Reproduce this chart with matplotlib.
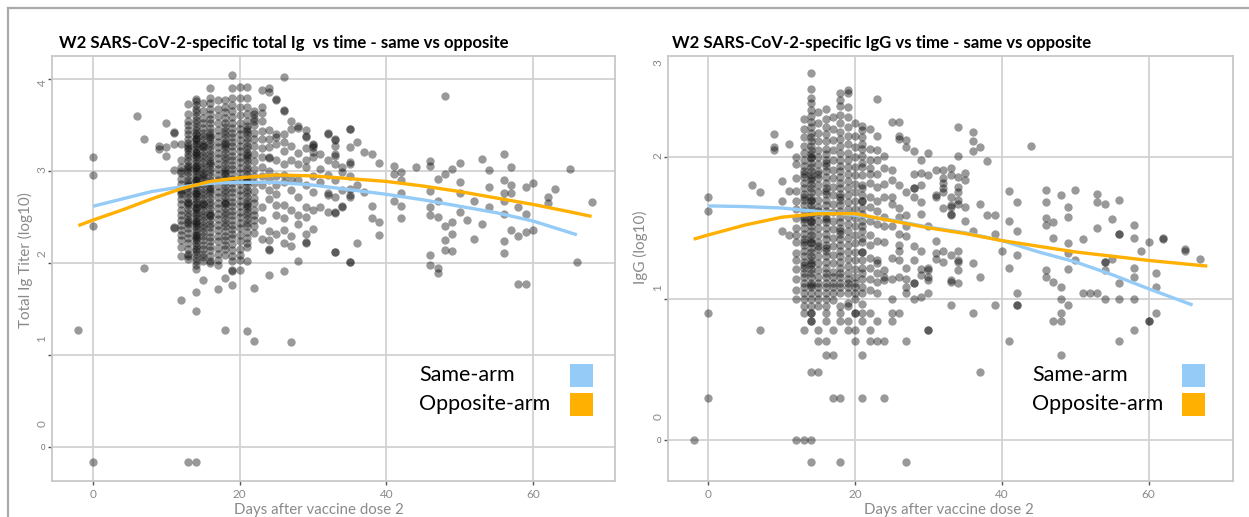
"""
plot.py
=======
Two-panel scatter of W2 SARS-CoV-2 antibody levels against days after the
second vaccine dose, with the same-arm / opposite-arm trend curves on top.
Writes out.png (1249x517).
"""
import matplotlib
matplotlib.use("Agg")
import matplotlib.pyplot as plt
from matplotlib.lines import Line2D
from matplotlib.patches import Rectangle
from matplotlib.transforms import blended_transform_factory

W, H = 1249, 517
FONT = "Lato"

# ---- left panel: total Ig titer (log10), one list of values per day ----
ig_by_day = {
    -2: [1.28],
    0: [3.15, 2.96, 2.40, -0.16],
    6: [3.60],
    7: [3.35, 1.95],
    9: [3.27, 3.24],
    10: [3.53, 3.17, 3.26],
    11: [3.42, 3.30, 3.01, 2.38, 2.39, 3.43],
    12: [3.30, 3.12, 3.05, 2.98, 2.92, 2.86, 2.80, 2.75, 2.70, 2.64, 2.58, 2.52, 2.47,
         2.42, 2.36, 2.31, 2.25, 2.18, 2.08, 1.60, 3.00, 2.77],
    13: [3.73, 3.62, 3.55, 3.50, 3.45, 3.40, 3.35, 3.31, 3.27, 3.23, 3.19, 3.15, 3.11,
         3.07, 3.03, 2.99, 2.95, 2.91, 2.87, 2.83, 2.79, 2.75, 2.71, 2.67, 2.63, 2.59,
         2.55, 2.51, 2.47, 2.43, 2.38, 2.33, 2.28, 2.22, 2.16, 2.10, 2.05, 2.08, -0.16,
         3.25, 3.05, 2.85, 2.65, 2.45],
    14: [3.79, 3.76, 3.72, 3.68, 3.64, 3.60, 3.56, 3.52, 3.48, 3.45, 3.42, 3.39, 3.36,
         3.33, 3.30, 3.27, 3.24, 3.21, 3.18, 3.15, 3.12, 3.09, 3.06, 3.03, 3.00, 2.97,
         2.94, 2.91, 2.88, 2.85, 2.82, 2.79, 2.76, 2.73, 2.70, 2.67, 2.64, 2.61, 2.58,
         2.55, 2.52, 2.49, 2.46, 2.43, 2.40, 2.37, 2.34, 2.31, 2.28, 2.25, 2.22, 2.19,
         2.16, 2.13, 2.10, 2.06, 2.02, 1.98, 1.94, 1.69, 1.48, -0.16, 3.35, 3.20, 3.05,
         2.90, 2.75, 2.60, 2.45, 2.30],
    15: [3.74, 3.66, 3.58, 3.52, 3.47, 3.42, 3.38, 3.34, 3.30, 3.26, 3.22, 3.18, 3.14,
         3.10, 3.06, 3.02, 2.98, 2.94, 2.90, 2.86, 2.82, 2.78, 2.74, 2.70, 2.66, 2.62,
         2.58, 2.54, 2.50, 2.46, 2.42, 2.38, 2.34, 2.30, 2.25, 2.20, 2.15, 2.10, 2.07,
         2.03, 1.82, 3.28, 2.96, 2.64],
    16: [3.91, 3.80, 3.74, 3.68, 3.62, 3.57, 3.52, 3.47, 3.43, 3.39, 3.35, 3.31, 3.27,
         3.23, 3.19, 3.15, 3.11, 3.07, 3.03, 2.99, 2.95, 2.91, 2.87, 2.83, 2.79, 2.75,
         2.71, 2.67, 2.63, 2.59, 2.55, 2.51, 2.47, 2.43, 2.39, 2.34, 2.29, 2.24, 2.19,
         2.14, 2.08, 2.03, 2.00, 3.37, 3.09, 2.81, 2.53],
    17: [3.77, 3.68, 3.60, 3.52, 3.45, 3.38, 3.32, 3.26, 3.20, 3.14, 3.08, 3.02, 2.96,
         2.90, 2.84, 2.78, 2.72, 2.66, 2.60, 2.54, 2.48, 2.42, 2.36, 2.30, 2.24, 2.17,
         2.10, 2.04, 1.98, 1.72],
    18: [3.77, 3.70, 3.64, 3.58, 3.53, 3.48, 3.44, 3.40, 3.36, 3.32, 3.28, 3.24, 3.20,
         3.16, 3.12, 3.08, 3.04, 3.00, 2.96, 2.92, 2.88, 2.84, 2.80, 2.76, 2.72, 2.68,
         2.64, 2.60, 2.56, 2.52, 2.48, 2.44, 2.40, 2.35, 2.30, 2.25, 2.20, 2.15, 2.09,
         1.84, 1.27, 3.30, 2.98, 2.66],
    19: [4.05, 3.91, 3.80, 3.72, 3.65, 3.59, 3.53, 3.47, 3.42, 3.37, 3.32, 3.27, 3.22,
         3.17, 3.12, 3.07, 3.02, 2.97, 2.92, 2.87, 2.82, 2.77, 2.72, 2.67, 2.62, 2.57,
         2.52, 2.47, 2.42, 2.37, 2.32, 2.27, 2.21, 2.14, 2.08, 2.02, 1.93, 1.92, 1.76],
    20: [3.92, 3.80, 3.70, 3.61, 3.53, 3.46, 3.40, 3.34, 3.28, 3.22, 3.16, 3.10, 3.04,
         2.98, 2.92, 2.86, 2.80, 2.74, 2.68, 2.62, 2.56, 2.50, 2.44, 2.38, 2.31, 2.24,
         2.16, 2.09, 2.04, 1.93],
    21: [3.92, 3.80, 3.70, 3.62, 3.55, 3.49, 3.44, 3.40, 3.36, 3.32, 3.28, 3.24, 3.20,
         3.16, 3.12, 3.08, 3.04, 3.00, 2.96, 2.92, 2.88, 2.84, 2.80, 2.76, 2.72, 2.68,
         2.64, 2.60, 2.56, 2.52, 2.48, 2.44, 2.40, 2.34, 2.28, 2.22, 2.18, 2.03, 1.26,
         3.46, 3.18, 2.90, 2.62],
    22: [3.66, 3.58, 3.50, 3.42, 3.35, 3.27, 3.19, 3.11, 3.03, 2.95, 2.87, 2.79, 2.71,
         2.65, 2.58, 2.53, 2.47, 2.40, 2.33, 1.73, 1.16, 3.62, 3.55],
    23: [3.88, 3.70, 3.63, 3.55, 3.44, 3.35, 3.16, 3.05, 2.95, 2.85, 2.61, 2.47, 2.26, 3.25],
    24: [3.91, 3.86, 3.45, 3.35, 3.26, 3.16, 3.14, 3.00, 2.90, 2.80, 2.35, 2.25, 2.15,
         1.87, 2.14, 2.70],
    25: [3.79, 3.77, 3.41, 3.37, 3.30, 3.12, 2.63, 2.53, 2.32, 2.95, 2.85, 2.75],
    26: [4.02, 3.67, 3.66, 3.40, 3.32, 3.22, 3.08, 2.63, 2.49, 2.36, 2.22, 1.92, 2.88, 2.96],
    27: [3.55, 3.46, 3.27, 3.12, 2.58, 2.30, 2.19, 1.14, 2.80, 2.92],
    28: [3.49, 3.47, 3.20, 3.08, 2.52, 2.43, 2.02, 2.90, 2.72],
    29: [3.45, 3.38, 3.37, 3.25, 3.12, 3.05, 2.61, 2.50, 2.32, 2.23, 2.22, 2.85],
    30: [3.30, 3.29, 3.26, 3.21, 3.16, 2.58, 2.37, 2.95, 2.78],
    31: [3.19, 3.03, 2.61, 2.88],
    32: [3.42, 3.41, 3.12, 2.74, 2.76, 2.56, 2.96],
    33: [3.35, 3.34, 3.27, 3.19, 3.08, 3.17, 2.72, 2.56, 2.55, 2.12, 2.12, 2.90],
    34: [3.05, 2.99, 2.62, 2.61, 2.80],
    35: [3.46, 3.46, 3.26, 3.10, 3.08, 2.81, 2.74, 2.72, 2.01, 2.01, 2.95],
    36: [3.32, 2.85, 2.22],
    37: [3.21, 2.78],
    38: [3.19, 2.62, 2.49],
    39: [3.09, 2.45, 2.31],
    41: [3.06, 2.97, 2.68],
    42: [2.99, 2.90, 2.76, 2.62, 2.49],
    44: [3.05],
    46: [3.11, 3.06, 2.79, 2.61, 2.52, 2.09, 1.98],
    47: [2.92, 2.68, 2.50, 1.95, 1.89],
    48: [3.82, 2.97, 2.40, 2.25, 2.14],
    49: [3.02, 2.45, 2.32, 2.13],
    50: [3.09, 2.88, 2.76, 2.56],
    51: [2.47],
    52: [2.68, 2.26],
    53: [3.13, 2.43],
    54: [3.01, 2.83, 2.61],
    56: [3.19, 2.90, 2.76, 2.68, 2.54, 2.24, 2.11],
    57: [3.05, 2.85, 2.76, 2.36],
    58: [2.61, 2.30, 1.77],
    59: [2.83, 2.54, 2.34, 1.77],
    60: [2.87, 2.36],
    62: [2.72, 2.65],
    63: [2.81],
    65: [3.03],
    66: [2.01],
    68: [2.67],
}

# ---- right panel: IgG (log10) ----
igg_by_day = {
    -2: [0.0],
    0: [1.715, 1.617, 0.90, 0.30],
    6: [1.80],
    7: [1.75, 0.78],
    9: [2.16, 2.07, 2.05],
    10: [1.69, 1.48, 1.83],
    11: [2.09, 1.45, 1.76],
    12: [2.00, 1.95, 1.85, 1.76, 1.69, 1.63, 1.57, 1.50, 1.45, 1.40, 1.32, 1.27, 1.21,
         1.14, 1.06, 1.00, 0.0],
    13: [2.27, 2.20, 2.14, 2.08, 2.03, 1.98, 1.94, 1.90, 1.86, 1.82, 1.78, 1.74, 1.70,
         1.66, 1.62, 1.58, 1.54, 1.50, 1.46, 1.42, 1.38, 1.34, 1.30, 1.26, 1.22, 1.18,
         1.15, 1.11, 1.08, 1.04, 1.00, 0.95, 0.90, 0.78, 0.0, 1.88, 1.72, 1.56, 1.40, 1.24],
    14: [2.59, 2.48, 2.42, 2.38, 2.33, 2.29, 2.25, 2.21, 2.17, 2.14, 2.11, 2.08, 2.05,
         2.02, 1.99, 1.96, 1.93, 1.90, 1.87, 1.84, 1.81, 1.78, 1.75, 1.72, 1.69, 1.66,
         1.63, 1.60, 1.57, 1.54, 1.51, 1.48, 1.45, 1.42, 1.39, 1.36, 1.33, 1.30, 1.27,
         1.24, 1.21, 1.18, 1.15, 1.11, 1.08, 1.04, 1.00, 0.95, 0.90, 0.90, 0.84, 0.84,
         0.48, 0.0, -0.15, 2.00, 1.85, 1.70, 1.55, 1.40, 1.25, 1.10],
    15: [2.32, 2.24, 2.17, 2.11, 2.05, 2.00, 1.95, 1.90, 1.85, 1.80, 1.75, 1.70, 1.65,
         1.60, 1.55, 1.50, 1.45, 1.40, 1.35, 1.30, 1.25, 1.20, 1.15, 1.11, 1.08, 1.04,
         1.00, 0.95, 0.78, 0.70, 0.48, 1.88, 1.62, 1.37],
    16: [2.34, 2.27, 2.21, 2.16, 2.11, 2.06, 2.02, 1.98, 1.94, 1.90, 1.86, 1.82, 1.78,
         1.74, 1.70, 1.66, 1.62, 1.58, 1.54, 1.50, 1.46, 1.42, 1.38, 1.34, 1.30, 1.26,
         1.22, 1.18, 1.15, 1.11, 1.08, 1.04, 1.00, 0.95, 0.90, 0.84, 0.70, 0.60, 1.96,
         1.76, 1.56, 1.36],
    17: [2.28, 2.20, 2.12, 2.05, 1.98, 1.91, 1.85, 1.79, 1.73, 1.67, 1.61, 1.55, 1.49,
         1.43, 1.37, 1.31, 1.25, 1.19, 1.15, 1.11, 1.08, 1.04, 0.99, 0.78, 0.60, 0.30],
    18: [2.45, 2.40, 2.36, 2.30, 2.24, 2.18, 2.13, 2.08, 2.03, 1.98, 1.94, 1.90, 1.86,
         1.82, 1.78, 1.74, 1.70, 1.66, 1.62, 1.58, 1.54, 1.50, 1.46, 1.42, 1.38, 1.34,
         1.30, 1.26, 1.22, 1.18, 1.15, 1.11, 1.08, 1.04, 0.95, 0.90, 0.84, 0.30, -0.15,
         1.72, 1.48],
    19: [2.47, 2.45, 2.35, 2.28, 2.21, 2.15, 2.09, 2.03, 1.98, 1.93, 1.88, 1.83, 1.78,
         1.73, 1.68, 1.63, 1.58, 1.53, 1.48, 1.43, 1.38, 1.33, 1.28, 1.23, 1.18, 1.14,
         1.11, 1.08, 1.04, 0.97, 0.95, 0.84, 0.78],
    20: [2.24, 2.15, 2.07, 2.00, 1.93, 1.87, 1.81, 1.75, 1.69, 1.63, 1.57, 1.51, 1.45,
         1.39, 1.33, 1.27, 1.21, 1.15, 1.11, 1.08, 1.04, 1.00, 0.90, 0.90, 0.78, 0.70],
    21: [2.22, 2.19, 2.14, 2.09, 2.06, 2.01, 1.93, 1.87, 1.80, 1.78, 1.73, 1.69, 1.69,
         1.60, 1.55, 1.48, 1.43, 1.40, 1.33, 1.33, 1.27, 1.22, 1.18, 1.14, 1.08, 1.04,
         0.96, 0.90, 0.84, 0.60, 0.30, 1.96, 1.64, 1.51],
    22: [2.20, 2.06, 1.98, 1.88, 1.82, 1.72, 1.65, 1.55, 1.45, 1.38, 1.29, 1.22, 1.14,
         1.06, 0.90, 0.78, 0.70, 1.92],
    23: [2.41, 2.15, 2.05, 1.98, 1.88, 1.79, 1.69, 1.62, 1.53, 1.41, 1.27, 1.25, 1.18,
         1.12, 1.04, 0.84, 0.70],
    24: [2.01, 1.92, 1.81, 1.72, 1.58, 1.51, 1.40, 1.20, 1.15, 1.13, 0.70, 0.30],
    25: [2.25, 1.91, 1.84, 1.67, 1.51, 1.29, 1.14, 1.00, 0.84, 0.90, 1.72],
    26: [2.25, 2.15, 2.13, 1.64, 1.58, 1.46, 1.38, 1.34, 1.27, 1.15, 0.90, 1.80],
    27: [2.12, 2.07, 1.59, 1.51, 1.44, 1.22, 1.14, 1.08, 1.04, 0.70, -0.15, 1.75],
    28: [2.04, 1.78, 1.78, 1.72, 1.37, 1.27, 1.11, 1.11, 1.00, 1.88],
    29: [1.98, 1.89, 1.68, 1.60, 1.34, 1.21, 1.17, 1.01, 1.80],
    30: [2.03, 1.87, 1.51, 1.22, 1.20, 1.15, 1.13, 1.04, 0.78, 0.78],
    31: [1.91, 1.73, 1.72, 1.41, 1.32, 1.28],
    32: [1.91, 1.85, 1.82, 1.78, 1.75, 1.64, 1.34, 1.26],
    33: [1.92, 1.87, 1.72, 1.66, 1.65, 1.60, 1.59, 1.31, 1.13, 1.12, 0.954],
    34: [2.21, 2.01, 1.86, 1.79, 1.75, 1.70, 1.67, 1.27, 1.26, 1.20, 1.11, 1.34],
    35: [1.89, 1.84, 1.65, 1.55],
    36: [2.18, 2.11, 2.04, 1.48, 1.25, 0.90],
    37: [2.07, 1.67, 1.15, 0.48],
    38: [1.97, 1.59],
    39: [1.59, 1.46, 0.954],
    40: [1.34],
    41: [1.76, 1.55, 1.22, 0.70],
    42: [1.68, 1.48, 1.31, 1.04, 0.954, 0.954],
    44: [2.08],
    46: [1.77, 1.68, 1.57, 1.52, 1.20, 1.15],
    47: [1.54, 1.43, 1.12, 0.845],
    48: [1.73, 1.08, 1.00, 0.90, 0.845, 0.60],
    49: [1.65, 1.58, 1.39, 1.32, 1.21, 0.954],
    50: [1.77, 1.27],
    51: [1.42, 1.04],
    52: [1.04],
    53: [1.74, 1.68, 1.50, 1.04],
    54: [1.67, 1.26, 1.26, 1.20, 1.00],
    55: [1.56, 1.28],
    56: [1.70, 1.46, 1.46, 1.11, 1.00, 0.70],
    58: [1.52, 1.43, 1.22, 1.15, 1.00, 0.78],
    59: [1.34],
    60: [1.40, 0.845, 0.845],
    61: [1.18, 1.08, 0.90],
    62: [1.43, 1.42],
    65: [1.35, 1.34],
    67: [1.28],
}

# ---- trend curves ----
ig_same_day = [0, 4, 8, 12, 16, 20, 25, 30, 35, 40, 45, 50, 55, 60, 66]
ig_same_val = [2.62, 2.70, 2.78, 2.83, 2.87, 2.88, 2.88, 2.85, 2.80, 2.75, 2.69, 2.62, 2.55, 2.46, 2.31]
ig_opp_day = [-2, 0, 4, 8, 12, 16, 20, 25, 30, 35, 40, 45, 50, 55, 60, 65, 68]
ig_opp_val = [2.41, 2.47, 2.58, 2.70, 2.81, 2.89, 2.93, 2.96, 2.95, 2.92, 2.89, 2.84, 2.78, 2.71, 2.64, 2.56, 2.51]

igg_same_day = [0, 5, 10, 15, 20, 25, 30, 35, 40, 45, 50, 55, 60, 66]
igg_same_val = [1.655, 1.65, 1.64, 1.615, 1.59, 1.555, 1.505, 1.465, 1.41, 1.33, 1.26, 1.17, 1.07, 0.955]
igg_opp_day = [-2, 0, 5, 10, 15, 20, 25, 30, 35, 40, 45, 50, 55, 60, 65, 68]
igg_opp_val = [1.42, 1.45, 1.52, 1.575, 1.60, 1.60, 1.55, 1.50, 1.46, 1.41, 1.37, 1.33, 1.30, 1.27, 1.245, 1.23]

x_ticks = [0, 20, 40, 60]
legend_labels = ["Same-arm", "Opposite-arm"]
SAME_COLOR = "#94CBF7"
OPP_COLOR = "#FFB000"


def px(x, y):
    """Pixel position (top-left origin) -> figure fraction."""
    return x / W, 1 - y / H


def flatten(by_day):
    xs, ys = [], []
    for day, vals in by_day.items():
        xs.extend([day] * len(vals))
        ys.extend(vals)
    return xs, ys


def draw_panel(fig, rect, by_day, same, opp, xlim, ylim, grid_y,
               rot_labels, title, title_x, ylabel, ylabel_x, ylabel_y,
               xlabel_x, legend_x, patch_x):
    ax = fig.add_axes(rect)
    ax.set_xlim(*xlim)
    ax.set_ylim(*ylim)

    for gx in x_ticks:
        ax.axvline(gx, color="#d2d2d2", lw=1.3, zorder=0)
    for gy in grid_y:
        ax.axhline(gy, color="#d2d2d2", lw=1.3, zorder=0)

    xs, ys = flatten(by_day)
    ax.scatter(xs, ys, s=36, color="black", alpha=0.4, linewidths=0, zorder=2)

    ax.plot(same[0], same[1], color=SAME_COLOR, lw=2.4, zorder=3, solid_capstyle="butt")
    ax.plot(opp[0], opp[1], color=OPP_COLOR, lw=2.4, zorder=4, solid_capstyle="butt")

    for sp in ax.spines.values():
        sp.set_color("#c8c8c8")
        sp.set_linewidth(1.3)

    ax.set_xticks(x_ticks)
    ax.set_xticklabels([str(t) for t in x_ticks], fontfamily=FONT,
                       fontsize=8.5, color="#8a8a8a")
    ax.tick_params(axis="x", length=3, width=1, color="#555555", pad=3)
    ax.set_yticks(grid_y)
    ax.set_yticklabels(["0" if g == 0 else "" for g in grid_y],
                       fontfamily=FONT, fontsize=5.5, color="#666666")
    ax.tick_params(axis="y", length=3, width=1, color="#555555", pad=2)

    # rotated value labels sit a little off the gridlines, as in the source
    trans = blended_transform_factory(ax.transAxes, ax.transData)
    x_off = -10 / (rect[2] * W)
    for lab, yv in rot_labels:
        ax.text(x_off, yv, lab, transform=trans, rotation=90, ha="center",
                va="center", fontfamily=FONT, fontsize=8.5, color="#8a8a8a")

    fig.text(*px(title_x, 43), title, fontfamily=FONT, fontweight="bold",
             fontsize=12.1, color="black", ha="left", va="center")
    fig.text(*px(ylabel_x, ylabel_y), ylabel, rotation=90, fontfamily=FONT,
             fontsize=11, color="#8a8a8a", ha="center", va="center")
    fig.text(*px(xlabel_x, 510), "Days after vaccine dose 2", fontfamily=FONT,
             fontsize=10.8, color="#8a8a8a", ha="center", va="center")

    for i, (lab, col) in enumerate(zip(legend_labels, [SAME_COLOR, OPP_COLOR])):
        yc = 375 + 29 * i
        fig.text(*px(legend_x, yc), lab, fontfamily=FONT, fontsize=15.5,
                 color="black", ha="left", va="center")
        x0, y0 = px(patch_x, yc + 11.5)
        fig.add_artist(Rectangle((x0, y0), 23 / W, 23 / H, color=col,
                                 transform=fig.transFigure, lw=0))
    return ax


def main():
    fig = plt.figure(figsize=(W / 100, H / 100), dpi=100)

    draw_panel(
        fig, [52 / W, 36 / H, 563 / W, 425 / H], ig_by_day,
        (ig_same_day, ig_same_val), (ig_opp_day, ig_opp_val),
        (-5.6, 71.2), (-0.366, 4.253), [0, 1, 2, 3, 4],
        [("4", 3.96), ("3", 3.02), ("2", 2.11), ("1", 1.18), ("0", 0.26)],
        "W2 SARS-CoV-2-specific total Ig  vs time - same vs opposite", 59,
        "Total Ig Titer (log10)", 25, 260, 319, 419, 570,
    )
    draw_panel(
        fig, [668 / W, 36 / H, 565 / W, 425 / H], igg_by_day,
        (igg_same_day, igg_same_val), (igg_opp_day, igg_opp_val),
        (-5.5, 71.5), (-0.287, 2.713), [0, 1, 2],
        [("3", 2.67), ("2", 2.01), ("1", 1.08), ("0", 0.17)],
        "W2 SARS-CoV-2-specific IgG vs time - same vs opposite", 672,
        "IgG (log10)", 640, 247, 949, 1032, 1182,
    )

    # outer frame of the composite (top and left edges only)
    fig.add_artist(Line2D([8 / W, 1], [1 - 8 / H] * 2, color="#aaaaaa", lw=1.6,
                          transform=fig.transFigure))
    fig.add_artist(Line2D([8 / W] * 2, [0, 1 - 8 / H], color="#aaaaaa", lw=1.6,
                          transform=fig.transFigure))

    fig.savefig("out.png", dpi=100)
    plt.close(fig)


if __name__ == "__main__":
    main()
